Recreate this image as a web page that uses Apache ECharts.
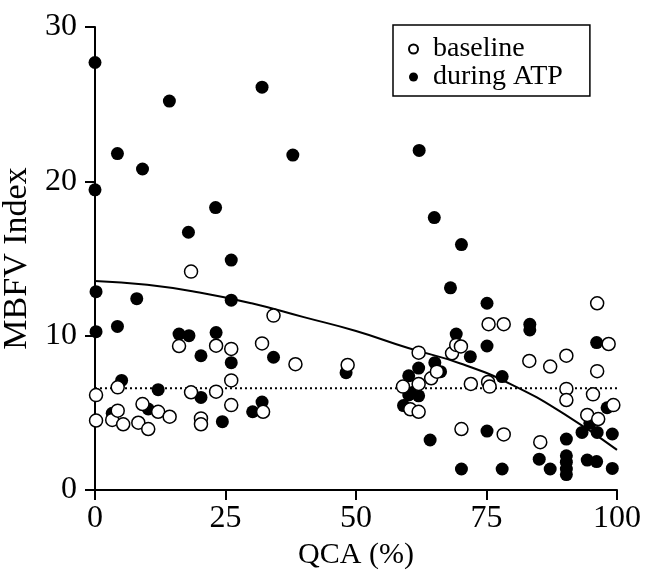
<!DOCTYPE html>
<html>
<head>
<meta charset="utf-8">
<script src="https://cdn.jsdelivr.net/npm/echarts@6/dist/echarts.min.js"></script>
<style>
  html, body { margin: 0; padding: 0; background: #fff; }
  #chart { width: 645px; height: 579px; }
</style>
</head>
<body>
<div id="chart"></div>
<script>
// values: [QCA %, MBFV index]
const baseline = [
  [0.2, 6.15], [0.2, 4.5], [3.3, 4.54], [4.35, 6.65], [4.35, 5.14], [5.4, 4.26],
  [8.3, 4.36], [9.1, 5.57], [10.2, 3.95], [12.1, 5.07], [14.3, 4.75], [16.1, 9.33],
  [18.4, 14.15], [18.4, 6.33], [20.3, 4.64], [20.3, 4.26], [23.2, 9.35], [23.2, 6.37],
  [26.1, 9.14], [26.1, 7.1], [26.1, 5.5], [32, 9.5], [32.2, 5.07], [34.2, 11.3],
  [38.4, 8.15], [48.4, 8.1], [59, 6.7], [60.4, 5.23], [62, 8.9], [62, 6.87],
  [62, 5.07], [64.4, 7.24], [65.5, 7.67], [68.4, 8.86], [69.2, 9.4], [70.1, 9.3],
  [70.2, 3.95], [72, 6.87], [75.4, 10.74], [78.3, 10.74], [75.3, 7.0], [75.6, 6.7],
  [78.3, 3.6], [83.2, 8.36], [85.3, 3.1], [87.2, 8.0], [90.3, 8.7], [90.3, 6.55],
  [90.3, 5.83], [94.3, 4.86], [95.4, 6.2], [96.2, 12.1], [96.2, 7.7], [96.4, 4.6],
  [98.4, 9.46], [99.3, 5.5]
];

const duringAtp = [
  [0, 27.7], [0, 19.45], [0.2, 12.85], [0.2, 10.26], [3.3, 4.97], [4.3, 21.8],
  [4.3, 10.6], [5.1, 7.1], [8, 12.4], [9.1, 20.8], [10.2, 5.25], [12.1, 6.5],
  [14.25, 25.2], [16.1, 10.1], [17.9, 16.7], [18, 10.0], [20.3, 8.7], [20.3, 6.0],
  [23.1, 18.3], [23.2, 10.2], [24.4, 4.43], [26.1, 14.9], [26.1, 12.3], [26.1, 8.25],
  [30.2, 5.07], [32, 26.1], [32, 5.7], [34.2, 8.6], [37.9, 21.7], [48.1, 7.6],
  [59.1, 5.47], [60.1, 7.4], [60.1, 6.16], [61, 6.33], [62, 7.9], [62, 6.1],
  [62.1, 22.0], [64.2, 3.24], [65, 17.65], [65.1, 8.25], [66.2, 7.67], [68.1, 13.1],
  [69.2, 10.1], [70.2, 15.9], [70.2, 1.36], [71.9, 8.64], [75.1, 12.1], [75.1, 9.33],
  [75.1, 3.82], [78, 7.35], [78, 1.36], [83.3, 10.74], [83.3, 10.37], [85.1, 2.0],
  [87.2, 1.36], [90.3, 3.3], [90.3, 2.22], [90.3, 1.8], [90.3, 1.36], [90.3, 1.0],
  [93.3, 3.73], [94.3, 1.94], [94.8, 4.32], [96.1, 9.55], [96.1, 1.84], [96.2, 3.73],
  [98.1, 5.33], [99.1, 3.63], [99.1, 1.4]
];

// fitted curve, read at every 10 %
const fitX = [0, 10, 20, 30, 40, 50, 60, 70, 80, 90, 100];
const fitY = [13.55, 13.3, 12.8, 12.1, 11.2, 10.3, 9.2, 8.2, 6.8, 4.9, 2.6];

// dotted reference level
const refLevel = 6.6;

const serif = '"Liberation Serif", "Times New Roman", serif';

const chart = echarts.init(document.getElementById('chart'));

chart.setOption({
  animation: false,
  backgroundColor: '#fff',
  grid: { left: 95, right: 28, top: 27, bottom: 89, outerBoundsMode: 'none' },
  legend: {
    orient: 'vertical',
    left: 393,
    top: 25,
    padding: [10, 27, 5, 15],
    itemGap: 0,
    itemWidth: 9,
    itemHeight: 9,
    borderColor: '#000',
    borderWidth: 1.5,
    borderRadius: 0,
    textStyle: { fontFamily: serif, fontSize: 28, color: '#000', lineHeight: 28, padding: [0, 0, 0, 10] },
    data: ['baseline', 'during ATP']
  },
  xAxis: {
    type: 'value',
    min: 0,
    max: 100,
    interval: 25,
    name: 'QCA (%)',
    nameLocation: 'middle',
    nameGap: 44,
    nameTextStyle: { fontFamily: serif, fontSize: 30, color: '#000' },
    axisLine: { lineStyle: { color: '#000', width: 2 } },
    axisTick: { length: 10, lineStyle: { color: '#000', width: 2 } },
    axisLabel: { fontFamily: serif, fontSize: 32, color: '#000', margin: 13 },
    splitLine: { show: false }
  },
  yAxis: {
    type: 'value',
    min: 0,
    max: 30,
    interval: 10,
    name: 'MBFV Index',
    nameLocation: 'middle',
    nameGap: 51,
    nameTextStyle: { fontFamily: serif, fontSize: 34, color: '#000' },
    axisLine: { show: true, lineStyle: { color: '#000', width: 2 } },
    axisTick: { show: true, length: 10, lineStyle: { color: '#000', width: 2 } },
    axisLabel: { fontFamily: serif, fontSize: 32, color: '#000', margin: 18 },
    splitLine: { show: false }
  },
  series: [
    {
      name: 'fit',
      type: 'line',
      data: fitX.map((x, i) => [x, fitY[i]]),
      smooth: true,
      showSymbol: false,
      lineStyle: { color: '#000', width: 2 },
      z: 1
    },
    {
      name: 'level',
      type: 'line',
      data: [[0, refLevel], [100, refLevel]],
      showSymbol: false,
      lineStyle: { color: '#000', width: 2, type: [2, 3] },
      z: 1
    },
    {
      name: 'during ATP',
      type: 'scatter',
      data: duringAtp,
      symbol: 'circle',
      symbolSize: 13,
      itemStyle: { color: '#000', opacity: 1 },
      z: 2
    },
    {
      name: 'baseline',
      type: 'scatter',
      data: baseline,
      symbol: 'circle',
      symbolSize: 13,
      itemStyle: { color: '#fff', borderColor: '#000', borderWidth: 1.5, opacity: 1 },
      z: 3
    }
  ]
});
</script>
</body>
</html>
